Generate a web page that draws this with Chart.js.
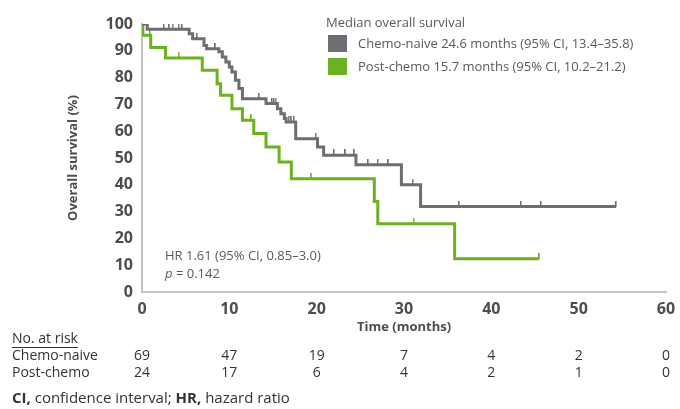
<!DOCTYPE html>
<html>
<head>
<meta charset="utf-8">
<script src="https://cdn.jsdelivr.net/npm/chart.js@4/dist/chart.umd.min.js"></script>
<style>
  html, body { margin: 0; padding: 0; background: #fff; }
  #wrap { width: 680px; height: 409px; }
</style>
</head>
<body>
<div id="wrap"><canvas id="myChart" width="680" height="409"></canvas></div>
<script>
// Kaplan-Meier steps: time (months) and survival (%) after each drop
const naiveTimes = [0, 0.6, 5.4, 5.8, 7.1, 7.4, 8.8, 9.2, 9.6, 10.0, 10.3, 10.7, 11.1, 11.5, 14.2, 15.5, 15.9, 16.3, 16.5, 17.6, 20.1, 20.8, 24.5, 29.7, 31.9, 54.3];
const naiveSurv  = [100, 98.0, 96.4, 94.5, 92.0, 90.8, 89.6, 87.7, 85.8, 84.0, 82.1, 79.0, 75.9, 72.1, 70.3, 68.4, 66.5, 64.7, 63.4, 57.2, 54.1, 51.0, 47.5, 40.0, 31.9, 31.9];
const naiveCensored = [2.5, 3.1, 3.5, 4.2, 4.6, 6.3, 8.4, 13.4, 14.9, 15.1, 15.3, 16.8, 17.1, 17.4, 19.9, 22.0, 23.3, 24.3, 25.9, 27.0, 28.2, 31.0, 36.3, 43.4, 45.7, 54.3];

const postTimes = [0, 0.1, 1.0, 2.7, 6.9, 8.6, 9.0, 10.3, 11.5, 12.8, 14.2, 15.7, 17.1, 26.6, 27.0, 35.8, 45.5];
const postSurv  = [100, 95.8, 91.2, 87.3, 82.7, 77.7, 73.4, 68.4, 64.1, 59.1, 54.1, 48.5, 42.3, 33.8, 25.5, 12.4, 12.4];
const postCensored = [0.9, 4.2, 12.5, 19.4, 31.1, 45.5];

// number at risk
const riskTimes = [0, 10, 20, 30, 40, 50, 60];
const riskNaive = [69, 47, 19, 7, 4, 2, 0];
const riskPost  = [24, 17, 6, 4, 2, 1, 0];

const grey = '#6d6e71';
const green = '#6cb11f';
const textCol = '#4d4d4f';
const fontFam = '"Open Sans", "Noto Sans", sans-serif';

function survAt(times, surv, t) {
  let v = surv[0];
  for (let i = 0; i < times.length; i++) {
    if (times[i] <= t) v = surv[i];
  }
  return v;
}

// little upward tick used for censored patients
function tickMark(color) {
  const c = document.createElement('canvas');
  c.width = 2; c.height = 12;
  const g = c.getContext('2d');
  g.fillStyle = color;
  g.fillRect(0, 0, 1.5, 6);
  return c;
}

const naiveLine = naiveTimes.map((t, i) => ({x: t, y: naiveSurv[i]}));
const postLine = postTimes.map((t, i) => ({x: t, y: postSurv[i]}));
const naiveTicks = naiveCensored.map(t => ({x: t, y: survAt(naiveTimes, naiveSurv, t)}));
const postTicks = postCensored.map(t => ({x: t, y: survAt(postTimes, postSurv, t)}));

const extras = {
  id: 'extras',
  afterDraw(chart) {
    const ctx = chart.ctx;
    const xs = chart.scales.x;
    ctx.save();
    ctx.textBaseline = 'middle';

    // legend
    ctx.fillStyle = '#58595b';
    ctx.font = '13px ' + fontFam;
    ctx.textAlign = 'left';
    ctx.fillText('Median overall survival', 326, 23);
    ctx.fillStyle = grey;
    ctx.fillRect(328, 35, 19, 17);
    ctx.fillStyle = green;
    ctx.fillRect(328, 58, 19, 17);
    ctx.fillStyle = '#58595b';
    ctx.fillText('Chemo-naive 24.6 months (95% CI, 13.4–35.8)', 358, 44);
    ctx.fillText('Post-chemo 15.7 months (95% CI, 10.2–21.2)', 358, 67);

    // hazard ratio
    ctx.fillText('HR 1.61 (95% CI, 0.85–3.0)', 165, 256);
    ctx.font = 'italic 13px ' + fontFam;
    ctx.fillText('p', 165, 274);
    const pw = ctx.measureText('p').width;
    ctx.font = '13px ' + fontFam;
    ctx.fillText(' = 0.142', 165 + pw, 274);

    // number at risk table
    ctx.fillStyle = '#333';
    ctx.font = '14px ' + fontFam;
    ctx.fillText('No. at risk', 12, 339);
    const uw = ctx.measureText('No. at risk').width;
    ctx.fillRect(12, 347, uw, 1);
    ctx.fillText('Chemo-naive', 12, 356);
    ctx.fillText('Post-chemo', 12, 373);
    ctx.textAlign = 'center';
    riskTimes.forEach((t, i) => {
      const px = xs.getPixelForValue(t);
      ctx.fillText(String(riskNaive[i]), px, 356);
      ctx.fillText(String(riskPost[i]), px, 373);
    });

    // footnote
    ctx.textAlign = 'left';
    let x = 12;
    const parts = [['CI,', true], [' confidence interval; ', false], ['HR,', true], [' hazard ratio', false]];
    parts.forEach(p => {
      ctx.font = (p[1] ? 'bold ' : '') + '15px ' + fontFam;
      ctx.fillText(p[0], x, 399);
      x += ctx.measureText(p[0]).width;
    });
    ctx.restore();
  }
};

var ctx = document.getElementById('myChart').getContext('2d');
var myChart = new Chart(ctx, {
  type: 'line',
  data: {
    datasets: [
      {
        label: 'Chemo-naive',
        data: naiveLine,
        borderColor: grey,
        borderWidth: 3,
        stepped: true,
        pointRadius: 0,
        fill: false
      },
      {
        label: 'Post-chemo',
        data: postLine,
        borderColor: green,
        borderWidth: 3,
        stepped: true,
        pointRadius: 0,
        fill: false
      },
      {
        label: 'Chemo-naive censored',
        data: naiveTicks,
        showLine: false,
        pointStyle: tickMark(grey),
        pointRadius: 6
      },
      {
        label: 'Post-chemo censored',
        data: postTicks,
        showLine: false,
        pointStyle: tickMark(green),
        pointRadius: 6
      }
    ]
  },
  options: {
    responsive: false,
    animation: false,
    layout: { padding: { left: 0, right: 14, top: 24, bottom: 67 } },
    plugins: {
      legend: { display: false },
      tooltip: { enabled: false }
    },
    scales: {
      x: {
        type: 'linear',
        min: 0,
        max: 60,
        ticks: {
          stepSize: 10,
          padding: 8,
          color: textCol,
          font: { family: fontFam, size: 16, weight: 'bold' }
        },
        grid: { display: false, drawTicks: false },
        border: { color: '#c4c4c4', width: 2 },
        title: {
          display: true,
          text: 'Time (months)',
          color: textCol,
          font: { family: fontFam, size: 13, weight: 'bold' },
          padding: { top: 0, bottom: 7 }
        },
        afterFit: s => { s.height = 50; s.paddingRight = 0; s.paddingLeft = 0; }
      },
      y: {
        min: 0,
        max: 100,
        ticks: {
          stepSize: 10,
          padding: 9,
          color: textCol,
          font: { family: fontFam, size: 16, weight: 'bold' }
        },
        grid: { display: false, drawTicks: false },
        border: { color: '#c4c4c4', width: 2 },
        title: {
          display: true,
          text: 'Overall survival (%)',
          color: textCol,
          font: { family: fontFam, size: 13, weight: 'bold' },
          padding: { top: 65, bottom: 0 }
        },
        afterFit: s => { s.width = 142; }
      }
    }
  },
  plugins: [extras]
});
</script>
</body>
</html>
